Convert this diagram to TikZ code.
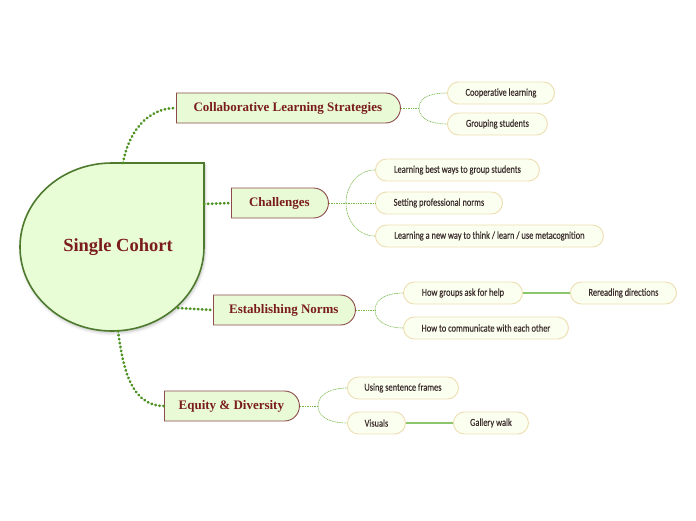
\documentclass[tikz,border=0pt]{standalone}
\usepackage{fontspec}
\usepackage{tikz}
\usetikzlibrary{shapes.misc,positioning,shadows.blur}
\newfontfamily\branchfont{Liberation Serif}
\newfontfamily\leaffont[FakeStretch=0.8,FakeBold=0.35]{Carlito}
\definecolor{rootfill}{HTML}{E8FCD6}
\definecolor{rootline}{HTML}{4E7A2E}
\definecolor{branchfill}{HTML}{E8FBD6}
\definecolor{branchline}{HTML}{8D4B4B}
\definecolor{branchtext}{HTML}{7B1C1C}
\definecolor{leaffill}{HTML}{FAFFF0}
\definecolor{leafline}{HTML}{EDDDB0}
\definecolor{leaftext}{HTML}{3C2D2D}
\definecolor{linkgreen}{HTML}{4E9222}
\definecolor{forkgreen}{HTML}{78B84A}
\definecolor{solidgreen}{HTML}{8CC66A}

\begin{document}
\begin{tikzpicture}[
  x=1pt, y=1pt,
  branch/.style={rounded rectangle, rounded rectangle west arc=none,
    draw=branchline, fill=branchfill, line width=0.9pt,
    minimum height=30pt, inner xsep=6pt, anchor=west, text=branchtext,
    font=\branchfont\bfseries\fontsize{13}{15}\selectfont},
  leaf/.style={rectangle, rounded corners=11pt, draw=leafline, fill=leaffill,
    line width=0.9pt, minimum height=22pt, inner xsep=4pt, anchor=west,
    text=leaftext, font=\leaffont\fontsize{10.5}{12}\selectfont},
  mainlink/.style={draw=linkgreen, line width=2.8pt, line cap=round,
    dash pattern=on 0.4pt off 3.6pt},
  fork/.style={draw=forkgreen, line width=0.65pt, dash pattern=on 1pt off 0.7pt},
  solidlink/.style={draw=solidgreen, line width=1.3pt}
]
\useasboundingbox (0,0) rectangle (696,-520);
%% ─── Central topic ─────────────────────────────────────────────────────────
\path[draw=rootline, fill=rootfill, line width=1.6pt,
  blur shadow={shadow xshift=1pt, shadow yshift=-2pt, shadow blur radius=3pt, shadow opacity=25}]
  (204,-247) -- (204,-163) -- (112,-163)
  arc[start angle=90, end angle=180, x radius=92, y radius=84]
  arc[start angle=180, end angle=360, x radius=92, y radius=84] -- cycle;
\node[text=branchtext, font=\branchfont\bfseries\fontsize{18.5}{20}\selectfont]
  (root) at (118,-247) {Single Cohort};
\coordinate (rtop)   at (123,-163);
\coordinate (rright) at (204,-204);
\coordinate (rlow)   at (178,-308);
\coordinate (rbot)   at (118,-331);
%% ─── Main branches ─────────────────────────────────────────────────────────
\node[branch, minimum width=236] (cls)  at (176,-108) {Collaborative Learning Strategies};
\node[branch, minimum width=109] (chal) at (231,-203) {Challenges};
\node[branch, minimum width=154] (norm) at (213,-310) {Establishing Norms};
\node[branch, minimum width=147] (eqd)  at (164,-406) {Equity \& Diversity};
%% ─── Sub-topics ────────────────────────────────────────────────────────────
\node[leaf, minimum width=107] (coop) at (447,-93)  {Cooperative learning};
\node[leaf, minimum width=100] (grp)  at (447,-124) {Grouping students};
\node[leaf, minimum width=164] (lbw)  at (375,-170) {Learning best ways to group students};
\node[leaf, minimum width=127] (spn)  at (375,-203) {Setting professional norms};
\node[leaf, minimum width=228] (lnw)  at (375,-236) {Learning a new way to think / learn / use metacognition};
\node[leaf, minimum width=119] (ask)  at (403,-293) {How groups ask for help};
\node[leaf, minimum width=106] (rer)  at (570,-293) {Rereading directions};
\node[leaf, minimum width=165] (com)  at (403,-328) {How to communicate with each other};
\node[leaf, minimum width=111] (sent) at (347,-388) {Using sentence frames};
\node[leaf, minimum width=58]  (vis)  at (347,-423) {Visuals};
\node[leaf, minimum width=75]  (gal)  at (453,-423) {Gallery walk};
%% ─── Links from the centre ─────────────────────────────────────────────────
\draw[mainlink] (rtop)   to[out=80, in=180] (cls.west);
\draw[mainlink] (rright) -- (chal.west);
\draw[mainlink] (rlow)   -- (norm.west);
\draw[mainlink] (rbot)   to[out=-82, in=180] (eqd.west);
%% ─── Forks to sub-topics ───────────────────────────────────────────────────
\coordinate (fcls)  at (419,-108);
\coordinate (fchal) at (346,-203);
\coordinate (fnorm) at (375,-310);
\coordinate (feqd)  at (318,-406);
\draw[fork] (cls.east) -- (fcls);
\draw[fork] (fcls) to[out=90, in=180] (coop.west);
\draw[fork] (fcls) to[out=-90, in=180] (grp.west);
\draw[fork] (chal.east) -- (spn.west);
\draw[fork] (fchal) to[out=90, in=180] (lbw.west);
\draw[fork] (fchal) to[out=-90, in=180] (lnw.west);
\draw[fork] (norm.east) -- (fnorm);
\draw[fork] (fnorm) to[out=90, in=180] (ask.west);
\draw[fork] (fnorm) to[out=-90, in=180] (com.west);
\draw[fork] (eqd.east) -- (feqd);
\draw[fork] (feqd) to[out=90, in=180] (sent.west);
\draw[fork] (feqd) to[out=-90, in=180] (vis.west);
%% ─── Further links ─────────────────────────────────────────────────────────
\draw[solidlink] (ask.east) -- (rer.west);
\draw[solidlink] (vis.east) -- (gal.west);
\end{tikzpicture}
\end{document}
